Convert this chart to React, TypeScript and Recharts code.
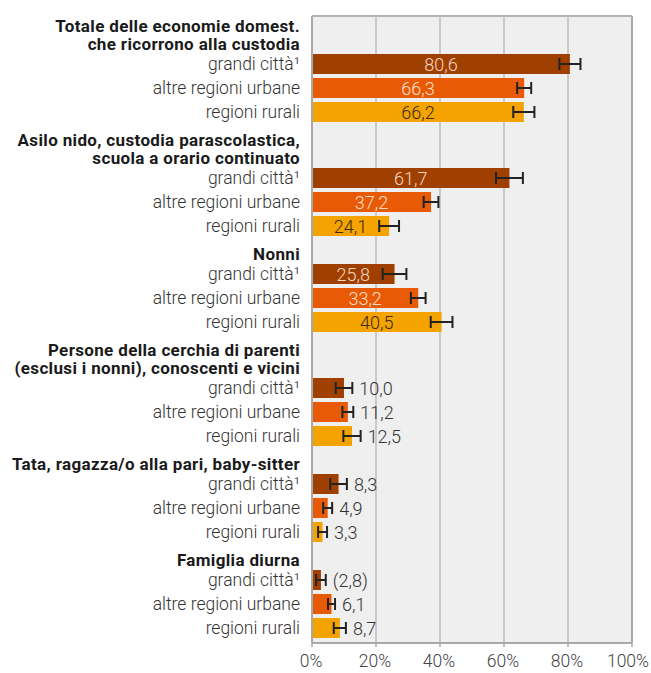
import { BarChart, Bar, XAxis, YAxis, CartesianGrid, ErrorBar, ReferenceLine } from 'recharts';

const groupTitles = [
  ['Totale delle economie domest.', 'che ricorrono alla custodia'],
  ['Asilo nido, custodia parascolastica,', 'scuola a orario continuato'],
  ['Nonni'],
  ['Persone della cerchia di parenti', '(esclusi i nonni), conoscenti e vicini'],
  ['Tata, ragazza/o alla pari, baby-sitter'],
  ['Famiglia diurna'],
];
const regions = ['grandi città¹', 'altre regioni urbane', 'regioni rurali'];

const grandiCitta = [80.6, 61.7, 25.8, 10.0, 8.3, 2.8];
const altreUrbane = [66.3, 37.2, 33.2, 11.2, 4.9, 6.1];
const regioniRurali = [66.2, 24.1, 40.5, 12.5, 3.3, 8.7];

const errGrandi = [3.3, 4.2, 3.7, 2.6, 2.6, 1.5];
const errAltre = [2.2, 2.3, 2.3, 1.7, 1.4, 1.1];
const errRurali = [3.3, 3.1, 3.4, 2.7, 1.4, 1.9];

// values shown in parentheses (few observations), as [group, region]
const lowReliability = [[5, 0]];

const xTicks = [0, 20, 40, 60, 80, 100];

const COLORS = ['#a04000', '#e85a05', '#f5a300'];
const INSIDE_TEXT = ['#f6d6c2', '#fde0cf', '#3a2c10'];
const FONT = 'Roboto, "Noto Sans", sans-serif';

// row layout in units of one bar row: a gap before each group, 0.75 per
// header line and one unit per bar
const series = [grandiCitta, altreUrbane, regioniRurali];
const errors = [errGrandi, errAltre, errRurali];

type Row = { pos: number; value: number; err: number; group: number; region: number; paren: boolean };

const rows: Row[] = [];
let cursor = 0;
groupTitles.forEach((title, g) => {
  if (g > 0) cursor += 0.25;
  cursor += 0.75 * title.length;
  regions.forEach((_, r) => {
    rows.push({
      pos: cursor + 0.5,
      value: series[r][g],
      err: errors[r][g],
      group: g,
      region: r,
      paren: lowReliability.some(([lg, lr]) => lg === g && lr === r),
    });
    cursor += 1;
  });
});
const yMax = cursor + 0.125;

function fmt(v: number, paren: boolean) {
  const s = v.toFixed(1).replace('.', ',');
  return paren ? `(${s})` : s;
}

function findRow(pos: number) {
  return rows.find((r) => Math.abs(r.pos - pos) < 1e-6);
}

function RowTick(props: any) {
  const { y, payload } = props;
  const row = findRow(payload.value);
  if (!row) return null;
  const title = groupTitles[row.group];
  return (
    <g>
      {row.region === 0 &&
        title.map((line, i) => (
          <text
            key={i}
            x={300}
            y={y - 20 - 18 * (title.length - 1 - i)}
            textAnchor="end"
            dominantBaseline="central"
            fontFamily={FONT}
            fontSize={17}
            fontWeight={700}
            letterSpacing={0.35}
            fill="#1a1a1a"
          >
            {line}
          </text>
        ))}
      <text
        x={300}
        y={y}
        textAnchor="end"
        dominantBaseline="central"
        fontFamily={FONT}
        fontSize={17.5}
        fontWeight={300}
        fill="#333"
      >
        {regions[row.region]}
      </text>
    </g>
  );
}

function PercentTick(props: any) {
  const { x, y, payload } = props;
  const last = payload.value === 100;
  return (
    <text
      x={last ? 649 : x - 1}
      y={y + 12}
      textAnchor={last ? 'end' : 'middle'}
      dominantBaseline="central"
      fontFamily={FONT}
      fontSize={17.5}
      fontWeight={300}
      fill="#444"
    >
      {`${payload.value}%`}
    </text>
  );
}

function BarShape(props: any) {
  const { x, y, width, height, payload } = props;
  const row = payload as Row;
  const perUnit = row.value > 0 ? width / row.value : 0;
  const inside = row.value >= 20;
  const cy = y + height / 2;
  return (
    <g>
      <rect x={x} y={y} width={width} height={height} fill={COLORS[row.region]} />
      {inside ? (
        <text
          x={x + width / 2}
          y={cy}
          textAnchor="middle"
          dominantBaseline="central"
          fontFamily={FONT}
          fontSize={18}
          fontWeight={300}
          fill={INSIDE_TEXT[row.region]}
        >
          {fmt(row.value, row.paren)}
        </text>
      ) : (
        <text
          x={x + width + row.err * perUnit + 7}
          y={cy}
          textAnchor="start"
          dominantBaseline="central"
          fontFamily={FONT}
          fontSize={18}
          fontWeight={300}
          fill="#333"
        >
          {fmt(row.value, row.paren)}
        </text>
      )}
    </g>
  );
}

export default function App() {
  return (
    <div style={{ position: 'absolute', left: 0, top: 0, background: '#fff' }}>
      <BarChart
        width={651}
        height={673}
        data={rows}
        layout="vertical"
        margin={{ top: 16, right: 19, bottom: 0, left: 0 }}
      >
        <CartesianGrid horizontal={false} fill="#efefef" stroke="#bdbdbd" strokeWidth={1.5} />
        <XAxis
          type="number"
          domain={[0, 100]}
          ticks={xTicks}
          height={30}
          axisLine={{ stroke: '#a8a8a8', strokeWidth: 2 }}
          tickLine={{ stroke: '#a8a8a8', strokeWidth: 1.5 }}
          tickSize={4}
          tick={<PercentTick />}
          interval={0}
        />
        <YAxis
          type="number"
          dataKey="pos"
          domain={[0, yMax]}
          ticks={rows.map((r) => r.pos)}
          interval={0}
          width={312}
          axisLine={{ stroke: '#a8a8a8', strokeWidth: 2 }}
          tickLine={false}
          tick={<RowTick />}
        />
        <ReferenceLine y={0} stroke="#b4b4b4" strokeWidth={2} />
        <ReferenceLine x={100} stroke="#a8a8a8" strokeWidth={2} />
        <Bar dataKey="value" barSize={20} shape={<BarShape />} isAnimationActive={false}>
          <ErrorBar dataKey="err" direction="x" width={6} stroke="#222" strokeWidth={2} />
        </Bar>
      </BarChart>
    </div>
  );
}
